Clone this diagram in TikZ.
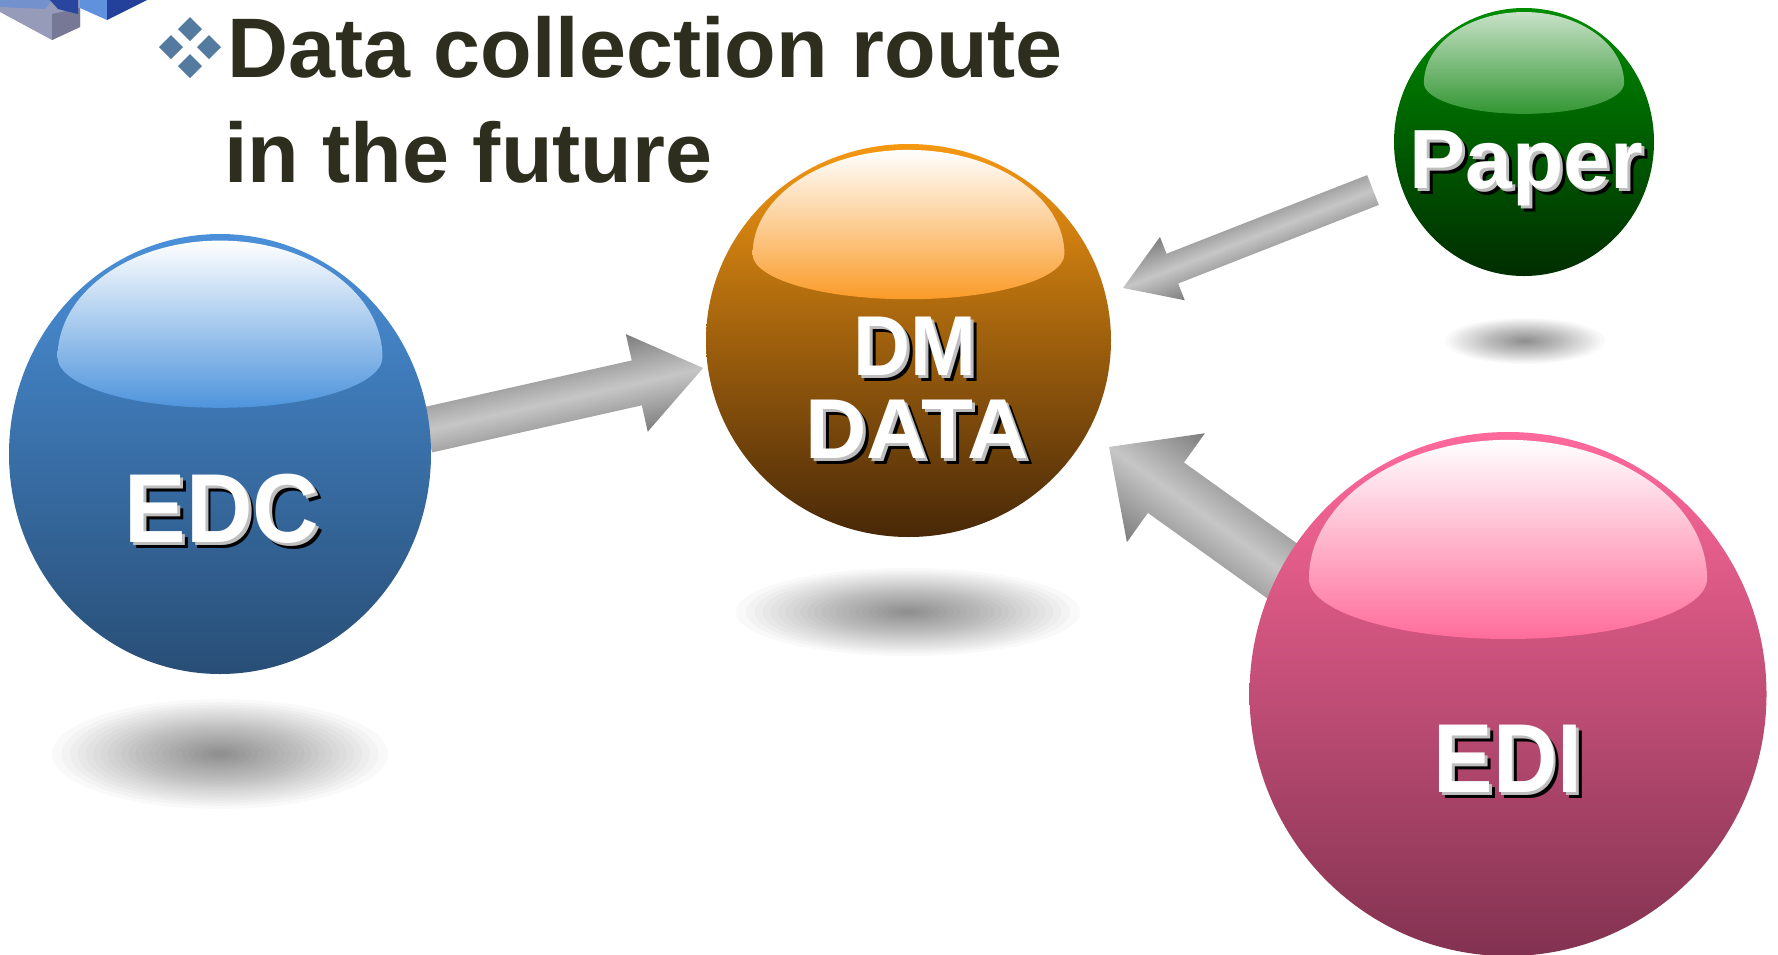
\documentclass[tikz,border=0pt]{standalone}
\usepackage{fontspec}
\setmainfont{Liberation Sans}
\usetikzlibrary{shapes.geometric,calc}

\definecolor{edcTop}{RGB}{74,144,217}
\definecolor{edcMid}{RGB}{58,114,174}
\definecolor{edcBot}{RGB}{40,78,118}
\definecolor{edcHl}{RGB}{78,148,220}
\definecolor{dmTop}{RGB}{245,152,18}
\definecolor{dmMid}{RGB}{192,108,4}
\definecolor{dmBot}{RGB}{72,40,8}
\definecolor{dmHl}{RGB}{250,155,40}
\definecolor{paperTop}{RGB}{0,140,0}
\definecolor{paperMid}{RGB}{0,95,0}
\definecolor{paperBot}{RGB}{0,45,0}
\definecolor{paperHl}{RGB}{50,150,50}
\definecolor{paperHlTop}{RGB}{200,225,200}
\definecolor{ediTop}{RGB}{255,105,155}
\definecolor{ediMid}{RGB}{200,80,120}
\definecolor{ediBot}{RGB}{130,50,80}
\definecolor{ediHl}{RGB}{255,108,155}
\definecolor{arrEdge}{RGB}{125,125,125}
\definecolor{arrMid}{RGB}{198,198,198}
\definecolor{lblGray}{RGB}{190,190,190}
\definecolor{titleCol}{RGB}{46,46,30}
\definecolor{bulletCol}{RGB}{84,122,160}
\definecolor{cubeGray}{RGB}{150,155,185}
\definecolor{cubeSide}{RGB}{118,120,150}
\definecolor{cubeDark}{RGB}{40,70,160}
\definecolor{cubeLight}{RGB}{115,145,205}
\definecolor{cubeLightB}{RGB}{95,145,220}
\definecolor{cubeDarkB}{RGB}{35,65,155}

\tikzset{
  grayarrow/.style={top color=arrEdge, bottom color=arrEdge, middle color=arrMid, draw=none},
  lbl/.style={anchor=base, inner sep=0pt, font=\bfseries},
  titletext/.style={anchor=base west, inner sep=0pt, text=titleCol, font=\bfseries\fontsize{84.5}{84.5}\selectfont},
  bulletdia/.style={fill=bulletCol},
  shadowlayer/.style={fill=black, opacity=0.025, draw=none}
}

% soft floor shadow: #1 cx, #2 cy, #3 rx, #4 ry
\newcommand\floorshadow[4]{%
  \foreach \k in {1,...,24}{%
    \pgfmathsetmacro\ff{1-((\k-1)/24)^0.9}%
    \fill[shadowlayer] (#1,#2) ellipse [x radius={#3*\ff}, y radius={#4*\ff}];
  }}

% #1 tail coordinate, #2 angle, #3 length, #4 shaft half width, #5 head length, #6 head half width
\newcommand\grayarrowshape[6]{%
  \begin{scope}[transform canvas={shift={(#1)}, rotate=#2}]
    \shade[grayarrow] (0,-#4) -- ({#3-#5},-#4) -- ({#3-#5},-#6) -- (#3,0) -- ({#3-#5},#6) -- ({#3-#5},#4) -- (0,#4) -- cycle;
  \end{scope}}

% #1 name, #2 cx, #3 cy, #4 rx, #5 ry, #6 colour prefix, #7 highlight top
\newcommand\glossysphere[7]{%
  \node[ellipse, inner sep=0pt, minimum width=2*#4pt, minimum height=2*#5pt, top color=#6Top, middle color=#6Mid, bottom color=#6Bot, draw=none] (#1) at (#2,#3) {};
  \pgfmathsetmacro\hrx{0.77*#4}%
  \pgfmathsetmacro\hwy{#3-0.44*#5}%
  \pgfmathsetmacro\hrt{0.53*#5}%
  \pgfmathsetmacro\hrb{0.23*#5}%
  \pgfmathsetmacro\hxl{#2-\hrx}%
  \shade[top color=#7, bottom color=#6Hl] (\hxl,\hwy) arc[start angle=180, end angle=360, x radius=\hrx, y radius=\hrt] arc[start angle=0, end angle=180, x radius=\hrx, y radius=\hrb] -- cycle;
}

% #1 name, #2 x, #3 baseline y, #4 size, #5 xscale, #6 text
\newcommand\spheretext[6]{%
  \node[lbl] (#1) at (#2,#3) {\fontsize{#4}{#4}\selectfont\scalebox{#5}[1]{%
    \rlap{\hspace*{6pt}\raisebox{-6pt}{\color{black}#6}}%
    \rlap{\hspace*{3pt}\raisebox{-3pt}{\color{lblGray}#6}}%
    \color{white}#6}};
}

\begin{document}
\begin{tikzpicture}[x=1pt, y=-1pt]
\useasboundingbox (0,0) rectangle (1778,954);

% corner cubes
\fill[cubeGray] (0,0) -- (80,0) -- (80,27) -- (52,40) -- (0,12) -- cycle;
\fill[cubeSide] (52,14) -- (80,8) -- (80,27) -- (52,40) -- cycle;
\fill[cubeLight] (0,0) -- (52,0) -- (45,9) -- (0,7) -- cycle;
\fill[cubeDark] (50,0) -- (78,0) -- (78,14) -- (58,9) -- cycle;
\fill[cubeLightB] (80,0) -- (107,0) -- (107,20) -- (80,8) -- cycle;
\fill[cubeDarkB] (107,0) -- (147,0) -- (107,20) -- cycle;

% title
\fill[bulletdia] (190,17) -- (202,29) -- (190,41) -- (178,29) -- cycle;
\fill[bulletdia] (171,35) -- (183,47) -- (171,59) -- (159,47) -- cycle;
\fill[bulletdia] (209,35) -- (221,47) -- (209,59) -- (197,47) -- cycle;
\fill[bulletdia] (190,54) -- (202,66) -- (190,78) -- (178,66) -- cycle;
\node[titletext] (title1) at (227,77) {Data collection route};
\node[titletext] (title2) at (224,182) {in the future};

% floor shadows
\floorshadow{220}{754}{168}{55}
\floorshadow{908}{612}{172}{44}
\floorshadow{1525}{341}{80}{23}

% arrows
\coordinate (edcTail) at (427,430);
\coordinate (paperTail) at (1373,190);
\coordinate (ediTail) at (1320,598);
\grayarrowshape{edcTail}{12.66}{283}{23}{68}{50}
\grayarrowshape{paperTail}{201.4}{268.5}{16}{53}{34}
\grayarrowshape{ediTail}{144.4}{259.5}{31}{70}{67}

% spheres
\glossysphere{edc}{220}{454}{211}{220}{edc}{white}
\glossysphere{dm}{908.5}{340.5}{202.5}{196.5}{dm}{white}
\glossysphere{paper}{1524}{142}{130}{134}{paper}{paperHlTop}
\glossysphere{edi}{1508}{694}{258.5}{262}{edi}{white}

% labels
\spheretext{edcL}{222}{542}{98}{0.94}{EDC}
\spheretext{dmL}{915}{375}{85}{0.93}{DM}
\spheretext{dataL}{917}{458}{85}{1.0}{DATA}
\spheretext{paperL}{1526}{188}{84}{1.0}{Paper}
\spheretext{ediL}{1508}{792}{98}{0.91}{EDI}
\end{tikzpicture}
\end{document}
